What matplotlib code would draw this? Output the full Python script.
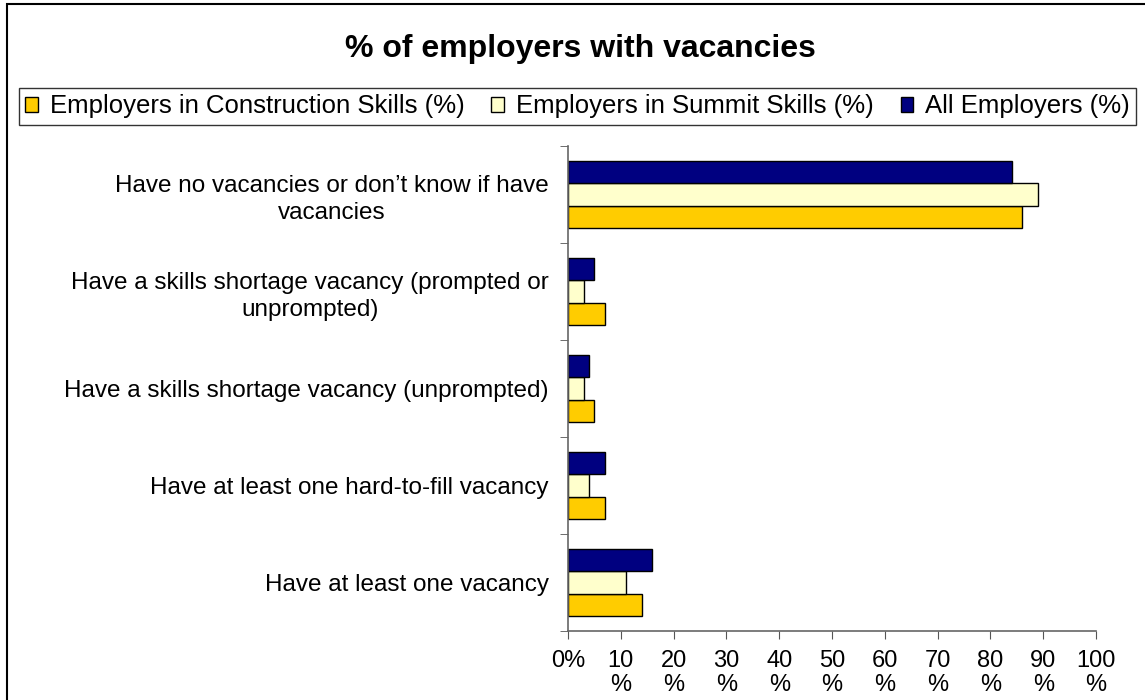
import matplotlib
matplotlib.use("Agg")
import matplotlib.pyplot as plt
import numpy as np
from matplotlib.patches import Rectangle

plt.rcParams['font.family'] = ['Liberation Sans', 'DejaVu Sans']

categories = [
    "Have no vacancies or don\u2019t know if have\nvacancies",
    "Have a skills shortage vacancy (prompted or\nunprompted)",
    "Have a skills shortage vacancy (unprompted)",
    "Have at least one hard-to-fill vacancy",
    "Have at least one vacancy",
]
construction = [86, 7, 5, 7, 14]
summit = [89, 3, 3, 4, 11]
all_employers = [84, 5, 4, 7, 16]
series_names = ["Employers in Construction Skills (%)",
                "Employers in Summit Skills (%)",
                "All Employers (%)"]
colors = ["#FFCC00", "#FFFFCC", "#000080"]
xticks = [0, 10, 20, 30, 40, 50, 60, 70, 80, 90, 100]
xticklabels = ["0%"] + [f"{v}\n%" for v in xticks[1:]]

W, H = 1145, 700
fig = plt.figure(figsize=(W / 100, H / 100), dpi=100)

# axes placement in pixels
left, right, top, bottom = 568, 1096, 146, 631
ax = fig.add_axes([left / W, 1 - bottom / H, (right - left) / W, (bottom - top) / H])

n = len(categories)
y = np.arange(n)[::-1]  # top category first
h = 0.227
data = [construction, summit, all_employers]
offsets = [-h, 0, h]
handles = []
for vals, col, off, name in zip(data, colors, offsets, series_names):
    b = ax.barh(y + off, vals, height=h, color=col, edgecolor="black",
                linewidth=1.0, label=name)
    handles.append(b)

fs = 17.5
ax.set_xlim(0, 100)
ax.set_ylim(-0.5, n - 0.5)
ax.set_xticks(xticks)
ax.set_xticklabels(xticklabels, fontsize=17, linespacing=1.1, va="top")
ax.set_yticks(y)
ax.set_yticklabels(categories, fontsize=fs, linespacing=1.3,
                   multialignment="center")
ax.tick_params(axis="y", which="major", length=0, pad=14)
ax.set_yticks(np.arange(-0.5, n, 1.0), minor=True)
ax.tick_params(axis="y", which="minor", length=6, direction="out", color="#555555")
ax.tick_params(axis="x", length=6, direction="out", color="#555555", pad=8)
for s in ["top", "right"]:
    ax.spines[s].set_visible(False)
for s in ["left", "bottom"]:
    ax.spines[s].set_color("#666666")
    ax.spines[s].set_linewidth(1.2)

# Title
fig.text(580 / W, 1 - 56.5 / H, "% of employers with vacancies", fontsize=23,
         fontweight="bold", ha="center", va="baseline")

# Legend
leg = fig.legend(handles=handles, labels=series_names, loc="center",
                 bbox_to_anchor=((19 + 1136) / 2 / W, 1 - 106.5 / H),
                 ncol=3, fontsize=18.5, frameon=True, fancybox=False,
                 edgecolor="black", handlelength=0.5, handleheight=0.5,
                 handletextpad=0.45, columnspacing=1.05, borderpad=0.25,
                 borderaxespad=0)
leg.get_frame().set_linewidth(1.0)

# outer chart border (cut off at right and bottom)
fig.patches.append(Rectangle((7 / W, -0.1), 1.2, 1 - 4 / H + 0.1,
                             transform=fig.transFigure, fill=False,
                             edgecolor="black", linewidth=1.5))

fig.savefig("out.png", dpi=100)
